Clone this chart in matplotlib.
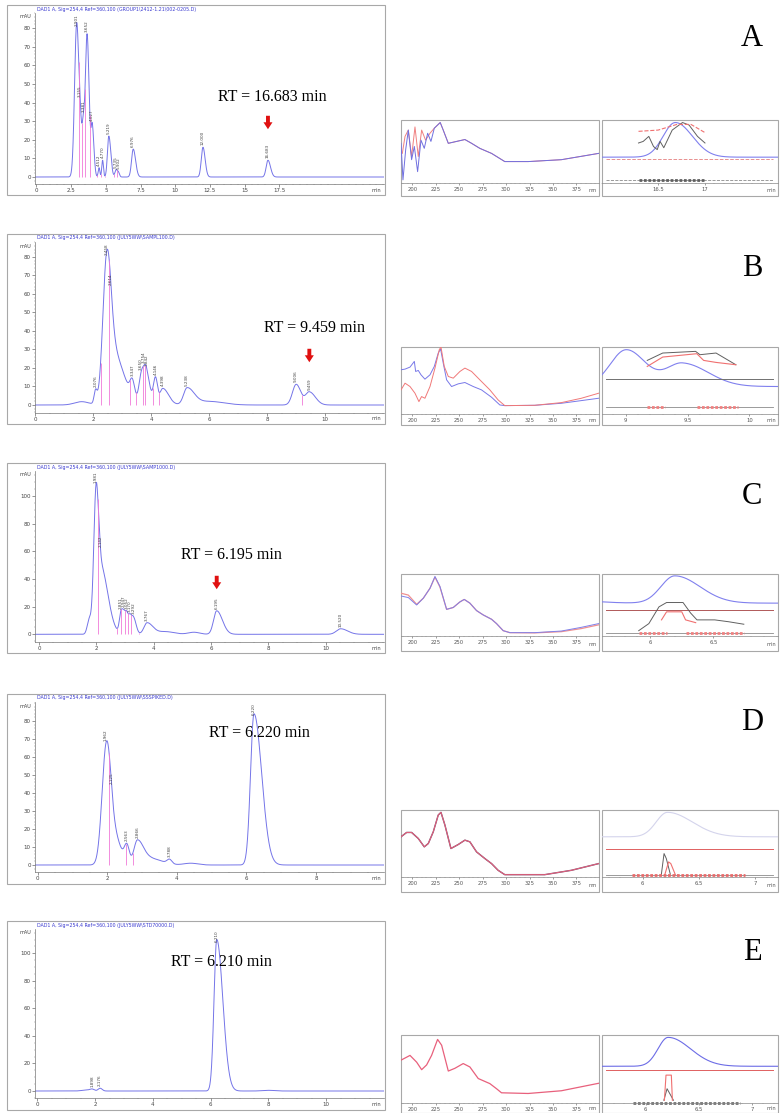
import numpy as np
import matplotlib
matplotlib.use("Agg")
from matplotlib import pyplot as plt
from matplotlib.patches import Rectangle
from matplotlib.ticker import MultipleLocator, FixedLocator

W, H = 783, 1113

# ---------------- chromatogram peak tables ----------------
# retention time (min), apex height (mAU), sigma (min), tailing factor, label
rtA = [2.901, 3.155, 3.381, 3.652, 4.027, 4.512, 4.770, 5.219, 5.735, 5.902, 6.976, 12.000, 16.683]
hA = [83, 42, 34, 77, 29, 5, 9, 22, 4, 3, 15, 16, 9]
sdA = [0.15, 0.1, 0.1, 0.12, 0.09, 0.06, 0.06, 0.1, 0.08, 0.08, 0.12, 0.12, 0.13]
tfA = [1.0, 1.0, 1.0, 1.2, 1.3, 1.0, 1.0, 1.4, 1.0, 1.0, 1.4, 1.3, 1.4]
lbA = ["2.901", "3.155", "3.381", "3.652", "4.027", "4.512", "4.770", "5.219",
       "5.735", "5.902", "6.976", "12.000", "16.683"]
dropA = [3.05, 3.27, 3.5, 3.85, 4.4, 4.65, 4.95, 5.6, 5.82, 6.1]

rtB = [1.60, 2.076, 2.458, 2.614, 3.347, 3.650, 3.754, 3.842, 4.146, 4.398, 5.238, 6.000, 9.006, 9.459]
hB = [1.8, 8.6, 83, 64, 14.4, 18, 21.6, 20, 15.3, 9, 9.4, 2.0, 11.2, 7.2]
sdB = [0.25, 0.05, 0.13, 0.2, 0.08, 0.08, 0.08, 0.08, 0.07, 0.1, 0.12, 0.5, 0.13, 0.13]
tfB = [1.0, 1.0, 1.1, 2.0, 1.0, 1.0, 1.0, 1.5, 1.0, 2.0, 2.0, 1.0, 1.2, 1.6]
lbB = ["", "2.076", "2.458", "2.614", "3.347", "3.650", "3.754", "3.842", "4.146",
       "4.398", "5.238", "", "9.006", "9.459"]
dropB = [2.25, 2.55, 3.27, 3.47, 3.72, 3.80, 4.05, 4.27, 9.22]

rtC = [1.75, 1.981, 2.142, 2.45, 2.851, 2.947, 3.052, 3.170, 3.292, 3.767, 4.4, 5.4, 6.195, 10.520]
hC = [12, 108, 62, 16, 17, 18, 17, 15, 13, 8.4, 2, 1.5, 17, 4]
sdC = [0.07, 0.08, 0.1, 0.25, 0.055, 0.055, 0.055, 0.055, 0.06, 0.11, 0.3, 0.2, 0.11, 0.15]
tfC = [1.0, 1.0, 2.5, 1.5, 1.0, 1.0, 1.0, 1.0, 1.5, 1.8, 1.0, 1.0, 1.8, 1.6]
lbC = ["", "1.981", "2.142", "", "2.851", "2.947", "3.052", "3.170", "3.292", "3.767",
       "", "", "6.195", "10.520"]
dropC = [2.05, 2.7, 2.87, 2.98, 3.1, 3.21, 3.5]

rtD = [1.962, 2.125, 2.563, 2.866, 3.3, 3.788, 4.4, 6.220]
hD = [68, 44, 12, 14, 4, 3.3, 1, 84]
sdD = [0.12, 0.11, 0.07, 0.1, 0.2, 0.07, 0.2, 0.1]
tfD = [1.0, 2.0, 1.0, 1.8, 1.5, 1.0, 1.0, 2.2]
lbD = ["1.962", "2.125", "2.563", "2.866", "", "3.788", "", "6.220"]
dropD = [2.05, 2.53, 2.73]

rtE = [1.7, 1.898, 2.176, 6.210, 8.0]
hE = [0.8, 1.5, 2.0, 110, 0.5]
sdE = [0.15, 0.07, 0.07, 0.095, 0.2]
tfE = [1.0, 1.0, 1.0, 2.2, 1.0]
lbE = ["", "1.898", "2.176", "6.210", ""]
dropE = []

titles = [
    "DAD1 A, Sig=254,4 Ref=360,100 (GROUP1\\2412-1.21\\002-0205.D)",
    "DAD1 A, Sig=254,4 Ref=360,100 (JULY5WW\\SAMPL100.D)",
    "DAD1 A, Sig=254,4 Ref=360,100 (JULY5WW\\SAMP1000.D)",
    "DAD1 A, Sig=254,4 Ref=360,100 (JULY5WW\\SSSPIKED.D)",
    "DAD1 A, Sig=254,4 Ref=360,100 (JULY5WW\\STD70000.D)",
]
letters = ["A", "B", "C", "D", "E"]
rt_text = ["RT = 16.683 min", "RT = 9.459 min", "RT = 6.195 min", "RT = 6.220 min", "RT = 6.210 min"]
target_rt = [16.683, 9.459, 6.195, None, None]

# ---------------- UV spectra (nm, normalised absorbance) ----------------
specA_nm_b = [188, 190.1, 193, 195.8, 199.3, 202.2, 205.7, 209.3, 212.8, 216.4, 219.9, 223.5, 227,
              229.8, 233, 238.4, 247.2, 256.1, 263.2, 272, 284.5, 298.6, 323.5, 358.9, 398.6]
specA_b = [0.63, 0.05, 0.53, 0.84, 0.37, 0.58, 0.18, 0.68, 0.55, 0.79, 0.66, 0.87, 0.92,
           0.96, 0.84, 0.63, 0.66, 0.69, 0.63, 0.55, 0.47, 0.34, 0.34, 0.37, 0.47]
specA_nm_r = [189.4, 192.3, 195.8, 199.3, 202.9, 206.4, 210, 214.2, 218.9, 223.5, 227,
              229.8, 233, 238.4, 247.2, 256.1, 263.2, 272, 284.5, 298.6, 323.5, 358.9, 398.6]
specA_r = [0.47, 0.74, 0.84, 0.42, 0.89, 0.42, 0.84, 0.68, 0.79, 0.87, 0.92,
           0.96, 0.84, 0.63, 0.66, 0.69, 0.63, 0.55, 0.47, 0.34, 0.34, 0.37, 0.47]

specB_nm_b = [188, 192.3, 197.6, 202.2, 203.6, 206.4, 209.3, 213.5, 218.9, 223.5, 227.7, 230.2, 233,
              236.6, 241.9, 249, 256.1, 265, 273.8, 284.5, 293.3, 298.6, 330.6, 358.9, 380.2, 398.6]
specB_b = [0.66, 0.67, 0.70, 0.785, 0.635, 0.65, 0.585, 0.52, 0.585, 0.71, 0.91, 0.97, 0.76,
           0.51, 0.41, 0.45, 0.47, 0.41, 0.36, 0.25, 0.135, 0.125, 0.13, 0.16, 0.20, 0.235]
specB_nm_r = [188, 192.3, 197.6, 202.9, 207.1, 209.9, 213.5, 218.9, 224.2, 228.8, 230.6, 234.1, 238.4,
              243.7, 250.8, 256.1, 263.2, 272, 282.7, 291.5, 298.6, 330.6, 358.9, 380.2, 398.6]
specB_r = [0.36, 0.46, 0.41, 0.31, 0.185, 0.26, 0.235, 0.41, 0.685, 0.96, 1.0, 0.71, 0.56,
           0.535, 0.635, 0.685, 0.635, 0.51, 0.36, 0.21, 0.125, 0.13, 0.17, 0.235, 0.31]

specC_nm = [188, 195.8, 204.7, 211.8, 218.9, 224.2, 229.5, 236.6, 243.7, 250.8, 255.4, 261.4,
            268.5, 275.6, 284.5, 289.8, 296.9, 304, 330.6, 358.9, 380.2, 398.6]
specC_b = [0.645, 0.62, 0.50, 0.61, 0.77, 0.96, 0.80, 0.43, 0.46, 0.55, 0.59, 0.53,
           0.41, 0.34, 0.27, 0.20, 0.086, 0.054, 0.054, 0.08, 0.14, 0.20]
specC_r = [0.69, 0.66, 0.51, 0.61, 0.77, 0.95, 0.79, 0.43, 0.46, 0.55, 0.59, 0.53,
           0.41, 0.34, 0.27, 0.20, 0.086, 0.054, 0.05, 0.07, 0.12, 0.18]

specD_nm = [188, 194, 199.3, 206.4, 212.8, 217.1, 222.4, 227.7, 230.6, 234.8, 241.2, 249, 256.1,
            261.4, 268.5, 277.4, 284.5, 291.5, 298.6, 341.2, 369.6, 398.6]
specD = [0.60, 0.665, 0.665, 0.575, 0.45, 0.50, 0.675, 0.925, 0.965, 0.775, 0.425, 0.485, 0.55,
         0.525, 0.375, 0.275, 0.20, 0.10, 0.035, 0.035, 0.10, 0.20]

specE_nm = [188, 197.6, 204.7, 210, 215.3, 220.6, 227, 231.3, 238.4, 245.4, 254.3, 261.4,
            270.3, 282.7, 289.8, 295.1, 323.5, 358.9, 398.6]
specE = [0.63, 0.70, 0.60, 0.49, 0.56, 0.70, 0.935, 0.85, 0.47, 0.51, 0.58, 0.53,
         0.36, 0.285, 0.21, 0.15, 0.14, 0.18, 0.29]

# ---------------- peak purity traces (min, normalised) ----------------
purA_gray_t = [16.29, 16.34, 16.40, 16.45, 16.49, 16.52, 16.56, 16.65, 16.76, 16.83, 16.92, 17.0]
purA_gray = [0.635, 0.66, 0.74, 0.58, 0.53, 0.66, 0.56, 0.84, 0.96, 0.92, 0.74, 0.635]
purA_red_t = [16.29, 16.5, 16.7, 16.85, 17.0]
purA_red = [0.82, 0.84, 0.93, 0.93, 0.80]

purB_gray_t = [9.175, 9.30, 9.565, 9.60, 9.73, 9.89]
purB_gray = [0.80, 0.91, 0.935, 0.885, 0.91, 0.735]
purB_red_t = [9.175, 9.30, 9.575, 9.63, 9.73, 9.89]
purB_red = [0.71, 0.85, 0.90, 0.80, 0.77, 0.735]

purC_gray_t = [5.91, 5.99, 6.07, 6.13, 6.26, 6.32, 6.37, 6.51, 6.62, 6.74]
purC_gray = [0.086, 0.20, 0.47, 0.54, 0.54, 0.37, 0.26, 0.26, 0.23, 0.19]
purC_red_t = [6.09, 6.13, 6.25, 6.28, 6.36]
purC_red = [0.26, 0.39, 0.39, 0.26, 0.215]

purD_gray_t = [6.165, 6.19, 6.21, 6.245]
purD_gray = [0.025, 0.35, 0.275, 0.045]
purD_red_t = [6.195, 6.23, 6.25, 6.29]
purD_red = [0.025, 0.225, 0.20, 0.035]

purE_gray_t = [6.17, 6.20, 6.26]
purE_gray = [0.04, 0.21, 0.04]
purE_red_t = [6.175, 6.19, 6.24, 6.25]
purE_red = [0.04, 0.41, 0.41, 0.04]

# purity band limits (min) drawn on the lower strip
purA_band = [(16.29, 17.0)]
purB_band = [(9.175, 9.32), (9.575, 9.91)]
purC_band = [(5.91, 6.13), (6.28, 6.74)]
purD_band = [(5.906, 6.91)]
purE_band = [(5.88, 6.88)]

# ---------------- layout (pixels) ----------------
chrom_lay = [
    dict(box=(7, 5, 385, 195), title_y=9, zero=177, ppu=1.86, axis=184, x0=36.4, ppm=13.88,
         xmin=0.5, xlab=[0, 2.5, 5, 7.5, 10, 12.5, 15, 17.5], ymaj=10, ymin=2, ytop=80),
    dict(box=(7, 234, 385, 424), title_y=238, zero=405, ppu=1.85, axis=413, x0=35.4, ppm=28.96,
         xmin=0.5, xlab=[0, 2, 4, 6, 8, 10], ymaj=10, ymin=2, ytop=80),
    dict(box=(7, 463, 385, 653), title_y=467, zero=634.3, ppu=1.383, axis=642, x0=39.1, ppm=28.67,
         xmin=0.5, xlab=[0, 2, 4, 6, 8, 10], ymaj=20, ymin=5, ytop=100),
    dict(box=(7, 694, 385, 884), title_y=698, zero=865, ppu=1.8, axis=872, x0=37.8, ppm=34.76,
         xmin=0.5, xlab=[0, 2, 4, 6, 8], ymaj=10, ymin=2, ytop=80),
    dict(box=(7, 921, 385, 1110), title_y=925, zero=1091, ppu=1.377, axis=1098, x0=37.3, ppm=28.9,
         xmin=0.5, xlab=[0, 2, 4, 6, 8, 10], ymaj=20, ymin=5, ytop=100),
]
side_y = [(120, 183, 196), (347, 414, 425), (574, 636, 651), (810, 877, 892), (1035, 1103, 1113)]
letter_y = [38, 268, 497, 723, 952]
rt_text_xy = [(272, 97), (314, 328), (231, 555), (259, 733), (221, 962)]
arrow_px = [(113, 132), (346, 365), (573, 592), None, None]
pur_xlim = [(15.9, 17.78), (8.81, 10.23), (5.62, 7.01), (5.64, 7.2), (5.59, 7.24)]
pur_ticks = [[16.5, 17], [9, 9.5, 10], [6, 6.5], [6, 6.5, 7], [6, 6.5, 7]]
pur_sig = [(0.41, 0.96), (0.41, 0.96), (0.53, 0.97), (0.60, 0.965), (0.54, 0.965)]
pur_sig_col = ["#8080ee", "#8080ee", "#8080ee", "#d4d4ec", "#6c6ce6"]
pur_thr = [0.375, 0.52, 0.42, 0.425, 0.48]
pur_thr_col = ["#e89090", "#707070", "#b05858", "#e06060", "#e06060"]
pur_strip = [0.05, 0.11, 0.054, 0.025, 0.0]
pur_band_col = ["#606060", "#f08080", "#f08080", "#e86a6a", "#707070"]

BLUE = "#7474e8"
PINK = "#f07ad8"
FRAME = "#a8a8a8"


def FigRect(x0, y0, x1, y1):
    return [x0 / W, 1 - y1 / H, (x1 - x0) / W, (y1 - y0) / H]


def PeakShape(t, rt, sd, tf):
    s = np.where(t < rt, sd, sd * tf)
    return np.exp(-0.5 * ((t - rt) / s) ** 2)


def Amplitudes(rt, h, sd, tf):
    """ Solve peak amplitudes so the summed trace passes through the read apex heights """
    rt = np.asarray(rt, float)
    h = np.asarray(h, float)
    M = np.array([[PeakShape(rt[i], rt[j], sd[j], tf[j]) for j in range(len(rt))] for i in range(len(rt))])
    a = h.copy()
    for _ in range(800):
        a = np.clip(a + 0.3 * (h - M @ a), 0, None)
    return a


def Trace(t, rt, amp, sd, tf):
    y = np.zeros_like(t)
    for r, a, s, f in zip(rt, amp, sd, tf):
        y += a * PeakShape(t, r, s, f)
    return y


def DrawChrom(fig, lay, peaks, drops, title):
    rt, h, sd, tf, lb = peaks
    amp = Amplitudes(rt, h, sd, tf)
    x0, y0, x1, y1 = lay["box"]
    fig.add_artist(Rectangle((x0 / W, 1 - y1 / H), (x1 - x0) / W, (y1 - y0) / H,
                             transform=fig.transFigure, fill=False, ec=FRAME, lw=0.8))
    top = lay["title_y"] + 4
    ax = fig.add_axes(FigRect(35, top, 384, lay["axis"]))
    ax.patch.set_alpha(0)
    xlo = (35 - lay["x0"]) / lay["ppm"]
    xhi = (384 - lay["x0"]) / lay["ppm"]
    ax.set_xlim(xlo, xhi)
    ytop = (lay["zero"] - top) / lay["ppu"]
    ax.set_ylim(-(lay["axis"] - lay["zero"]) / lay["ppu"], ytop)
    t = np.linspace(xlo, xhi, 4000)
    ax.plot(t, Trace(t, rt, amp, sd, tf), color=BLUE, lw=0.7)
    if drops:
        d = np.asarray(drops)
        ax.vlines(d, 0, Trace(d, rt, amp, sd, tf), color=PINK, lw=0.6)
    for r, l in zip(rt, lb):
        if not l:
            continue
        yy = Trace(np.array([r]), rt, amp, sd, tf)[0]
        off = 2.0 / lay["ppu"]
        tall = (len(l) * 2.6 + 2) / lay["ppu"]
        if yy + off + tall > ytop:
            # too close to the frame top: hang the label down from the top edge
            ax.text(r, ytop - 1.0 / lay["ppu"], l, rotation=90, fontsize=3.0, color="#444444",
                    ha="center", va="top")
        else:
            ax.text(r, yy + off, l, rotation=90, fontsize=3.0, color="#444444",
                    ha="center", va="bottom")
    for s in ["top", "right"]:
        ax.spines[s].set_visible(False)
    for s in ["left", "bottom"]:
        ax.spines[s].set_color("#777777")
        ax.spines[s].set_linewidth(0.5)
    ax.xaxis.set_major_locator(FixedLocator(lay["xlab"]))
    ax.set_xticklabels(["%g" % v for v in lay["xlab"]])
    ax.xaxis.set_minor_locator(MultipleLocator(lay["xmin"]))
    ax.set_yticks(list(range(0, lay["ytop"] + 1, lay["ymaj"])))
    ax.yaxis.set_minor_locator(MultipleLocator(lay["ymin"]))
    ax.tick_params(which="major", labelsize=4, length=2, width=0.4, pad=1, colors="#444444")
    ax.tick_params(which="minor", length=1, width=0.3, colors="#777777")
    fig.text(37 / W, 1 - lay["title_y"] / H, title, fontsize=3.4, color="#3a3ad0", va="center")
    fig.text(31 / W, 1 - (lay["title_y"] + 8) / H, "mAU", fontsize=3.6, color="#444444",
             ha="right", va="center")
    fig.text(381 / W, 1 - (lay["axis"] + 6) / H, "min", fontsize=3.6, color="#444444",
             ha="right", va="center")
    return ax, (rt, amp, sd, tf)


def SideAxes(fig, x0, x1, yy):
    top, axis, bottom = yy
    ax = fig.add_axes(FigRect(x0, top, x1, bottom))
    ax.set_ylim(-(bottom - axis) / (axis - top), 1.0)
    for s in ["top", "left", "right"]:
        ax.spines[s].set_visible(False)
    ax.spines["bottom"].set_position(("data", 0))
    ax.spines["bottom"].set_color("#888888")
    ax.spines["bottom"].set_linewidth(0.5)
    ax.add_patch(Rectangle((0, 0), 1, 1, transform=ax.transAxes, fill=False, ec=FRAME,
                           lw=0.8, clip_on=False))
    ax.set_yticks([])
    ax.tick_params(which="major", labelsize=3.8, length=1.6, width=0.4, pad=1, colors="#555555")
    ax.tick_params(which="minor", length=1, width=0.3, colors="#888888")
    return ax


def DrawSpectrum(fig, yy, series):
    ax = SideAxes(fig, 401, 599, yy)
    ax.set_xlim(188, 399)
    ax.xaxis.set_major_locator(FixedLocator([200, 225, 250, 275, 300, 325, 350, 375]))
    ax.xaxis.set_minor_locator(MultipleLocator(5))
    for nm, v, c, lw in series:
        ax.plot(nm, v, color=c, lw=lw)
    ax.text(397, ax.get_ylim()[0] * 0.55, "nm", fontsize=3.6, color="#555555", ha="right", va="center")


def DrawPurity(fig, i, yy, chrom, gray, red, bands):
    ax = SideAxes(fig, 602, 778, yy)
    lo, hi = pur_xlim[i]
    ax.set_xlim(lo, hi)
    ax.xaxis.set_major_locator(FixedLocator(pur_ticks[i]))
    ax.set_xticklabels(["%g" % v for v in pur_ticks[i]])
    ax.xaxis.set_minor_locator(MultipleLocator(0.1))
    t = np.linspace(lo, hi, 800)
    y = Trace(t, *chrom)
    base, peak = pur_sig[i]
    ax.plot(t, base + (peak - base) * y / y.max(), color=pur_sig_col[i], lw=0.8)
    ls = "--" if i == 0 else "-"
    ax.plot([lo + 0.02 * (hi - lo), hi - 0.03 * (hi - lo)], [pur_thr[i]] * 2, color=pur_thr_col[i],
            lw=0.7, ls=ls)
    ax.plot(gray[0], gray[1], color="#606060", lw=0.7)
    ax.plot(red[0], red[1], color="#f07070", lw=0.8, ls="--" if i == 0 else "-")
    if pur_strip[i] > 0:
        ax.plot([lo + 0.02 * (hi - lo), hi - 0.03 * (hi - lo)], [pur_strip[i]] * 2,
                color="#8a8a8a", lw=0.6, ls="--" if i == 0 else "-")
    for a, b in bands:
        ax.plot([a, b], [pur_strip[i]] * 2, color=pur_band_col[i], lw=2.0, ls=(0, (1, 0.6)),
                solid_capstyle="butt")
    ax.text(hi - 0.01 * (hi - lo), ax.get_ylim()[0] * 0.55, "min", fontsize=3.6, color="#555555",
            ha="right", va="center")


fig = plt.figure(figsize=(W / 100, H / 100), dpi=100)

peak_sets = [(rtA, hA, sdA, tfA, lbA), (rtB, hB, sdB, tfB, lbB), (rtC, hC, sdC, tfC, lbC),
             (rtD, hD, sdD, tfD, lbD), (rtE, hE, sdE, tfE, lbE)]
drop_sets = [dropA, dropB, dropC, dropD, dropE]
spectra = [
    [(specA_nm_r, specA_r, "#f08080", 0.7), (specA_nm_b, specA_b, "#7070e0", 0.7)],
    [(specB_nm_b, specB_b, "#7878e8", 0.7), (specB_nm_r, specB_r, "#f07878", 0.7)],
    [(specC_nm, specC_r, "#f09090", 0.9), (specC_nm, specC_b, "#8080e8", 0.7)],
    [(specD_nm, specD, "#705070", 1.0), (specD_nm, specD, "#e8607c", 0.7)],
    [(specE_nm, specE, "#e8607c", 0.9)],
]
purity = [
    ((purA_gray_t, purA_gray), (purA_red_t, purA_red), purA_band),
    ((purB_gray_t, purB_gray), (purB_red_t, purB_red), purB_band),
    ((purC_gray_t, purC_gray), (purC_red_t, purC_red), purC_band),
    ((purD_gray_t, purD_gray), (purD_red_t, purD_red), purD_band),
    ((purE_gray_t, purE_gray), (purE_red_t, purE_red), purE_band),
]

serif = ["Liberation Serif", "DejaVu Serif"]
for i in range(5):
    lay = chrom_lay[i]
    ax, chrom = DrawChrom(fig, lay, peak_sets[i], drop_sets[i], titles[i])
    tx, ty = rt_text_xy[i]
    fig.text(tx / W, 1 - ty / H, rt_text[i], fontsize=11.5, family=serif, ha="center", va="center")
    if arrow_px[i] is not None:
        y_tail = (lay["zero"] - arrow_px[i][0]) / lay["ppu"]
        y_tip = (lay["zero"] - arrow_px[i][1]) / lay["ppu"]
        ax.annotate("", xy=(target_rt[i], y_tip), xytext=(target_rt[i], y_tail),
                    arrowprops=dict(arrowstyle="simple,head_width=0.65,head_length=0.5,tail_width=0.28",
                                    color="#e01010", lw=0))
    fig.text(752 / W, 1 - letter_y[i] / H, letters[i], fontsize=22, family=serif,
             ha="center", va="center")
    DrawSpectrum(fig, side_y[i], spectra[i])
    g, r, b = purity[i]
    DrawPurity(fig, i, side_y[i], chrom, g, r, b)

fig.savefig("out.png", dpi=100)
